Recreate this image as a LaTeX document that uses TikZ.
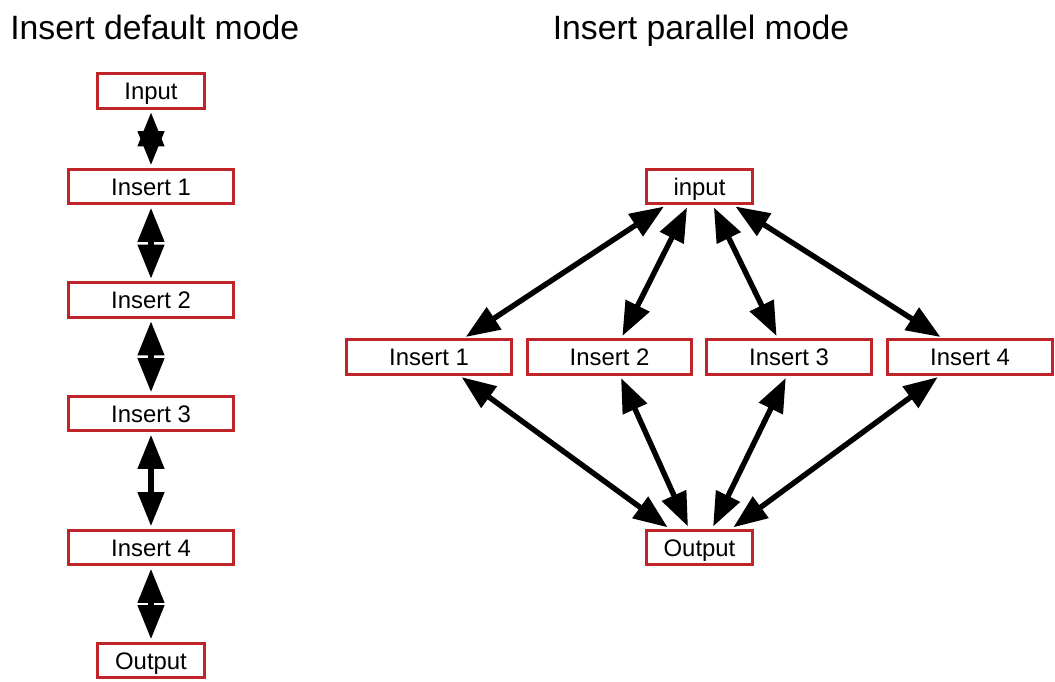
\documentclass[tikz,border=0pt]{standalone}
\usepackage{fontspec}
\setmainfont{Liberation Sans}
\usetikzlibrary{arrows.meta}
\definecolor{boxred}{RGB}{190,36,40}
\tikzset{
  box/.style={draw=boxred,line width=0.075cm,rectangle,inner sep=0pt,minimum height=0.85cm,text height=12.2pt,text depth=0pt,font=\fontsize{17}{20}\selectfont},
  widebox/.style={box,minimum width=4.1cm},
  smallbox/.style={box,minimum width=2.65cm},
  title/.style={font=\fontsize{24}{28}\selectfont,inner sep=0pt},
  link/.style={line width=0.135cm,{Triangle[length=0.85cm,width=0.64cm]}-{Triangle[length=0.85cm,width=0.64cm]},shorten >=0.07cm,shorten <=0.07cm}
}

\begin{document}
\begin{tikzpicture}[x=0.025cm,y=-0.025cm]
\useasboundingbox (0,0) rectangle (1055,682);

\node[title,anchor=base west] (tdef) at (10,40) {Insert default mode};
\node[title,anchor=base] (tpar) at (701,40) {Insert parallel mode};

% default mode
\node[smallbox] (din) at (151,91) {Input};
\node[widebox] (d1) at (151,186.5) {Insert 1};
\node[widebox] (d2) at (151,300) {Insert 2};
\node[widebox] (d3) at (151,413.5) {Insert 3};
\node[widebox] (d4) at (151,547.5) {Insert 4};
\node[smallbox] (dout) at (151,660.5) {Output};

\draw[link] (din)--(d1);
\draw[link] (d1)--(d2);
\draw[link] (d2)--(d3);
\draw[link] (d3)--(d4);
\draw[link] (d4)--(dout);

% parallel mode
\node[smallbox] (pin) at (699.5,186.5) {input};
\node[widebox] (p1) at (429,357) {Insert 1};
\node[widebox] (p2) at (609.5,357) {Insert 2};
\node[widebox] (p3) at (789,357) {Insert 3};
\node[widebox] (p4) at (970,357) {Insert 4};
\node[smallbox] (pout) at (699.5,547.5) {Output};

\draw[link] ([xshift=-0.83cm]pin.south) -- ([xshift=0.86cm]p1.north);
\draw[link] ([xshift=-0.28cm]pin.south) -- ([xshift=0.29cm]p2.north);
\draw[link] ([xshift=0.33cm]pin.south) -- ([xshift=-0.28cm]p3.north);
\draw[link] ([xshift=0.84cm]pin.south) -- ([xshift=-0.68cm]p4.north);

\draw[link] ([xshift=0.76cm]p1.south) -- ([xshift=-0.74cm]pout.north);
\draw[link] ([xshift=0.26cm]p2.south) -- ([xshift=-0.26cm]pout.north);
\draw[link] ([xshift=-0.05cm]p3.south) -- ([xshift=0.31cm]pout.north);
\draw[link] ([xshift=-0.75cm]p4.south) -- ([xshift=0.79cm]pout.north);
\end{tikzpicture}
\end{document}
